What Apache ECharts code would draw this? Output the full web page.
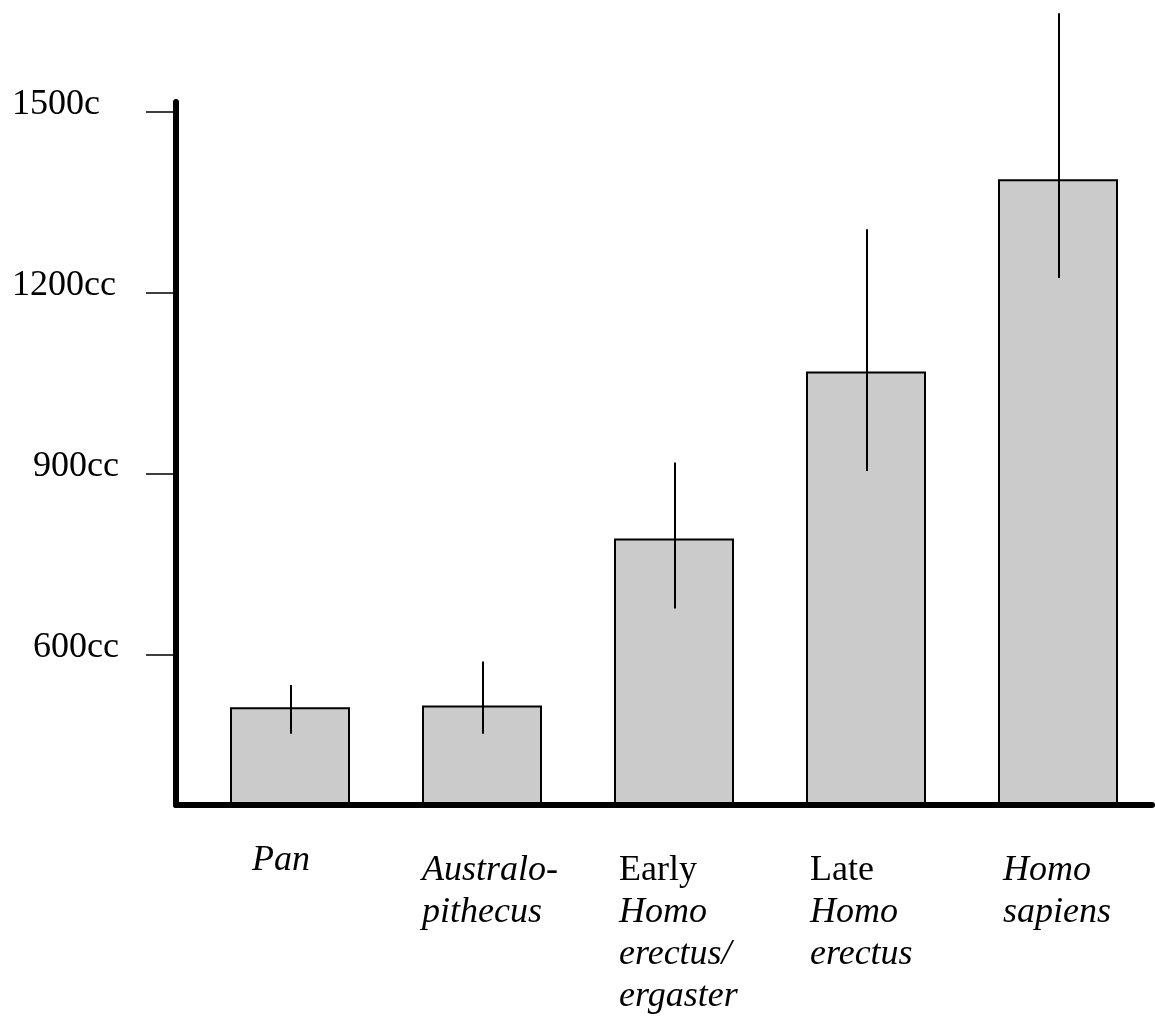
<!DOCTYPE html>
<html>
<head>
<meta charset="utf-8">
<script src="https://cdn.jsdelivr.net/npm/echarts@6/dist/echarts.min.js"></script>
<style>
  html, body { margin: 0; padding: 0; background: #fff; }
  #chart { width: 1155px; height: 1017px; }
</style>
</head>
<body>
<div id="chart"></div>
<script>
// ---- data ----
const categories = ['Pan', 'Australo-\npithecus', 'Early\nHomo\nerectus/\nergaster', 'Late\nHomo\nerectus', 'Homo\nsapiens'];
const meanVolume = [512, 515, 792, 1069, 1388];
const rangeLow = [468, 468, 676, 904, 1224];
const rangeHigh = [549, 588, 918, 1305, 1663];
const tickValues = [600, 900, 1200, 1500];
const tickLabels = ['600cc', '900cc', '1200cc', '1500c'];

// ---- layout / style (not data) ----
const FONT = "'Liberation Serif', 'Times New Roman', serif";
const labelIndent = [22, 0, 5, 4, 5];
const uprightWords = ['Early', 'Late'];

const rich = {};
categories.forEach((c, k) => {
  rich['i' + k] = { fontFamily: FONT, fontSize: 36, fontStyle: 'italic', color: '#000', align: 'left',
    lineHeight: k === 0 ? 22 : 42, padding: [0, 0, 0, labelIndent[k]] };
  rich['r' + k] = { fontFamily: FONT, fontSize: 36, fontStyle: 'normal', color: '#000', align: 'left',
    lineHeight: 42, padding: [0, 0, 0, labelIndent[k]] };
});

const chart = echarts.init(document.getElementById('chart'), null, { renderer: 'canvas' });
chart.setOption({
  animation: false,
  backgroundColor: '#ffffff',
  grid: { left: 176, right: 3, top: 102, bottom: 212, containLabel: false, outerBoundsMode: 'none' },
  xAxis: {
    type: 'value',
    min: -114 / 192,
    max: (1152 - 290) / 192,
    z: 10,
    splitLine: { show: false },
    axisTick: { show: false },
    axisLine: { show: true, onZero: false, lineStyle: { color: '#000', width: 6 } },
    axisLabel: {
      customValues: categories.map((c, i) => i),
      margin: 45,
      align: 'center',
      verticalAlign: 'top',
      width: 120,
      overflow: 'none',
      rich: rich,
      formatter: function (v) {
        const k = Math.round(v);
        return categories[k].split('\n').map(function (line) {
          const st = uprightWords.indexOf(line) >= 0 ? 'r' : 'i';
          return '{' + st + k + '|' + line + '}';
        }).join('\n');
      }
    }
  },
  yAxis: {
    type: 'value',
    min: 350,
    max: 1516,
    startValue: 350,
    z: 10,
    splitLine: { show: false },
    axisLine: { show: true, onZero: false, lineStyle: { color: '#000', width: 6 } },
    axisTick: { show: true, customValues: tickValues, length: 30, lineStyle: { color: '#000', width: 1.5 } },
    axisLabel: {
      customValues: tickValues,
      margin: 164,
      align: 'left',
      verticalAlign: 'bottom',
      rich: {
        n: { fontFamily: FONT, fontSize: 36, color: '#000', lineHeight: 14 },
        s: { fontFamily: FONT, fontSize: 36, color: '#000', lineHeight: 14, padding: [0, 0, 0, 21] }
      },
      formatter: function (v) {
        const t = tickLabels[tickValues.indexOf(v)];
        return (v < 1000 ? '{s|' : '{n|') + t + '}';
      }
    }
  },
  series: [
    {
      type: 'bar',
      barWidth: 120,
      data: meanVolume.map(function (v, i) { return [i, v]; }),
      itemStyle: { color: '#cbcbcb', borderColor: '#000', borderWidth: 2 },
      z: 2
    },
    {
      type: 'custom',
      clip: false,
      z: 5,
      data: categories.map(function (c, i) { return [i, rangeLow[i], rangeHigh[i]]; }),
      encode: { x: 0, y: [1, 2] },
      renderItem: function (params, api) {
        const x = api.value(0);
        const p1 = api.coord([x, api.value(1)]);
        const p2 = api.coord([x, api.value(2)]);
        return {
          type: 'line',
          shape: { x1: p1[0] + 1, y1: p1[1], x2: p2[0] + 1, y2: p2[1] },
          style: { stroke: '#000', lineWidth: 2 }
        };
      }
    }
  ]
});
</script>
</body>
</html>
